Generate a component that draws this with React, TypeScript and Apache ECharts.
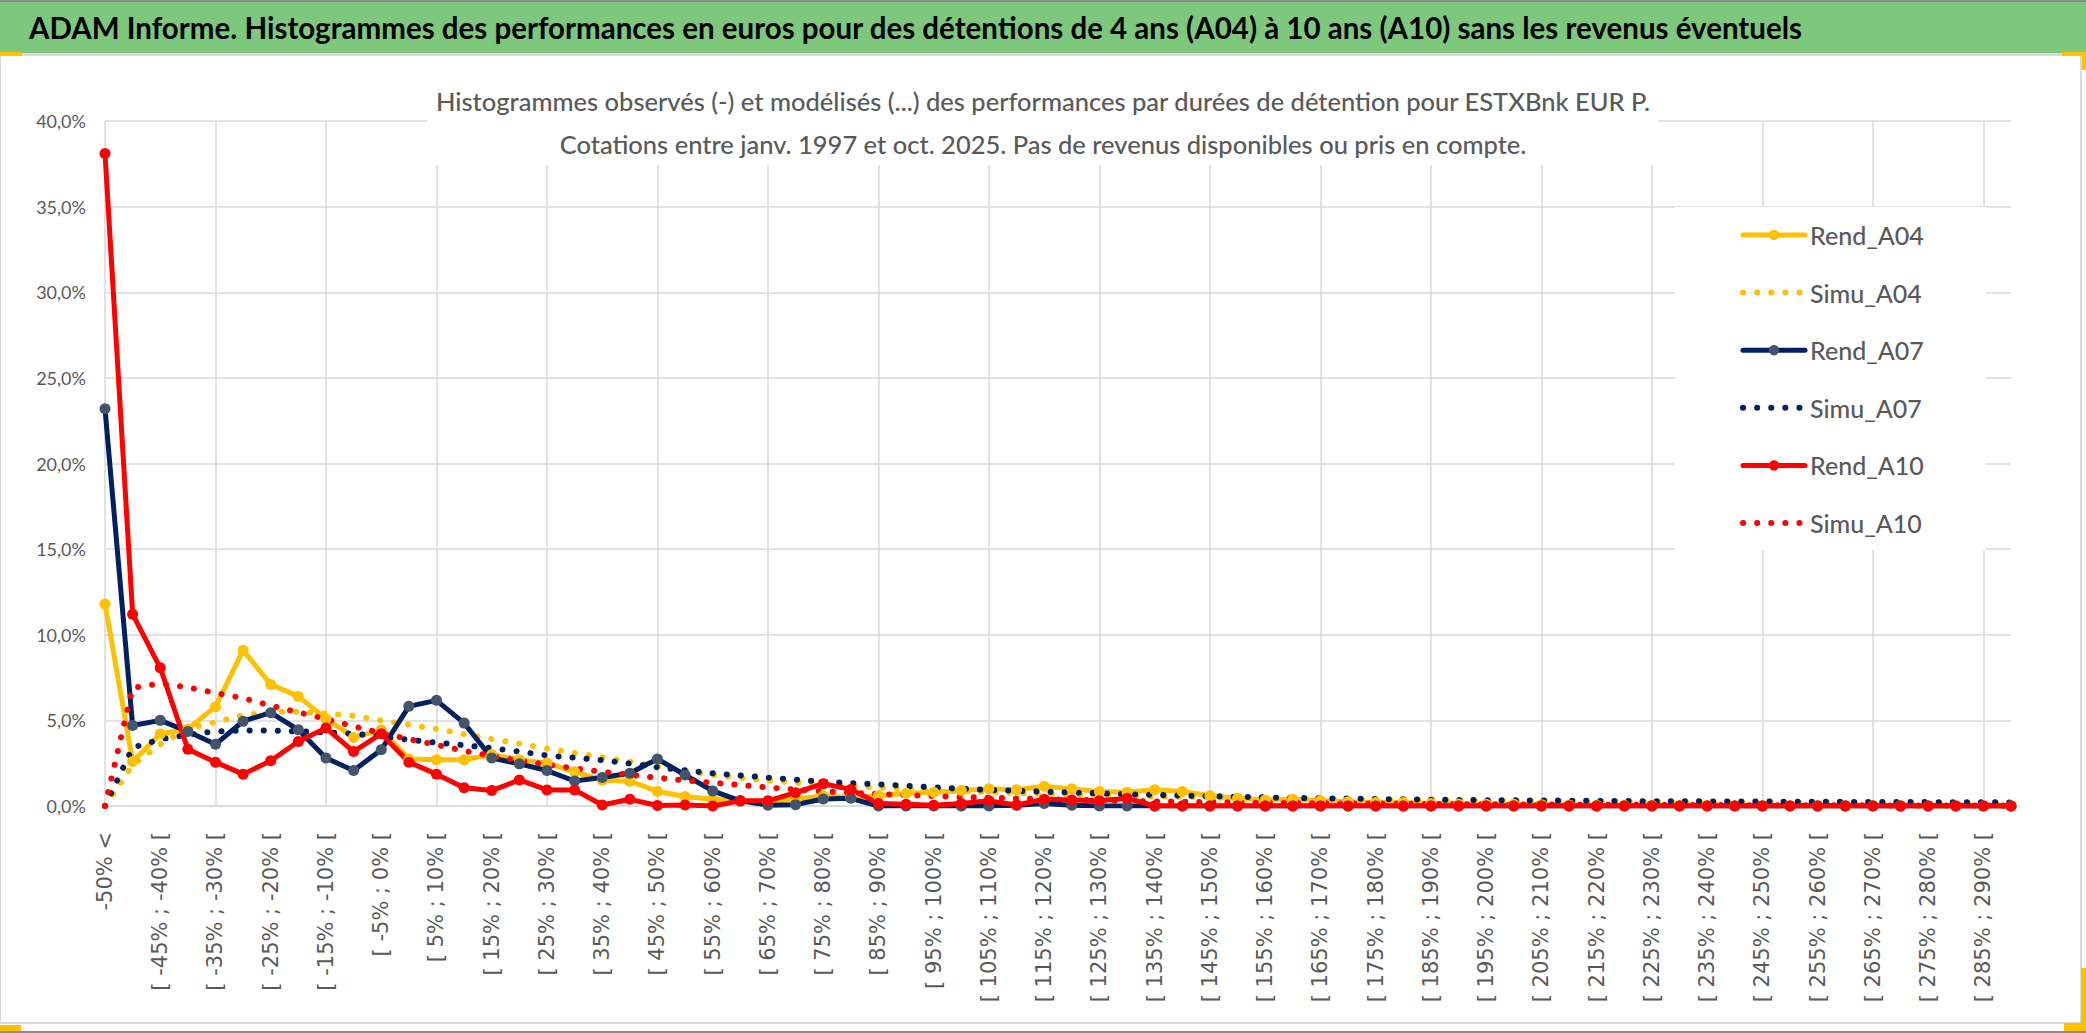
import React, { useEffect, useRef } from "react";
import * as echarts from "echarts";

const W = 2086;
const H = 1033;

const FN = "Lato, 'Liberation Sans', sans-serif";

const mainTitle =
  "ADAM Informe. Histogrammes des performances en euros pour des détentions de 4 ans (A04) à 10 ans (A10) sans les revenus éventuels";
const subTitle1 =
  "Histogrammes observés (-) et modélisés (...) des performances par durées de détention pour ESTXBnk EUR P.";
const subTitle2 =
  "Cotations entre janv. 1997 et oct. 2025. Pas de revenus disponibles ou pris en compte.";

const categories = [
  "-50% <",
  "[ -50% ; -45% [", "[ -45% ; -40% [", "[ -40% ; -35% [", "[ -35% ; -30% [", "[ -30% ; -25% [",
  "[ -25% ; -20% [", "[ -20% ; -15% [", "[ -15% ; -10% [", "[ -10% ; -5% [", "[ -5% ; 0% [",
  "[ 0% ; 5% [", "[ 5% ; 10% [", "[ 10% ; 15% [", "[ 15% ; 20% [", "[ 20% ; 25% [",
  "[ 25% ; 30% [", "[ 30% ; 35% [", "[ 35% ; 40% [", "[ 40% ; 45% [", "[ 45% ; 50% [",
  "[ 50% ; 55% [", "[ 55% ; 60% [", "[ 60% ; 65% [", "[ 65% ; 70% [", "[ 70% ; 75% [",
  "[ 75% ; 80% [", "[ 80% ; 85% [", "[ 85% ; 90% [", "[ 90% ; 95% [", "[ 95% ; 100% [",
  "[ 100% ; 105% [", "[ 105% ; 110% [", "[ 110% ; 115% [", "[ 115% ; 120% [", "[ 120% ; 125% [",
  "[ 125% ; 130% [", "[ 130% ; 135% [", "[ 135% ; 140% [", "[ 140% ; 145% [", "[ 145% ; 150% [",
  "[ 150% ; 155% [", "[ 155% ; 160% [", "[ 160% ; 165% [", "[ 165% ; 170% [", "[ 170% ; 175% [",
  "[ 175% ; 180% [", "[ 180% ; 185% [", "[ 185% ; 190% [", "[ 190% ; 195% [", "[ 195% ; 200% [",
  "[ 200% ; 205% [", "[ 205% ; 210% [", "[ 210% ; 215% [", "[ 215% ; 220% [", "[ 220% ; 225% [",
  "[ 225% ; 230% [", "[ 230% ; 235% [", "[ 235% ; 240% [", "[ 240% ; 245% [", "[ 245% ; 250% [",
  "[ 250% ; 255% [", "[ 255% ; 260% [", "[ 260% ; 265% [", "[ 265% ; 270% [", "[ 270% ; 275% [",
  "[ 275% ; 280% [", "[ 280% ; 285% [", "[ 285% ; 290% [", "[ 290% ; 295% [",
];

const rendA04 = [
  11.8, 2.6, 4.2, 4.5, 5.8, 9.1, 7.1, 6.4, 5.1, 4.0,
  4.45, 2.75, 2.7, 2.7, 3.0, 2.7, 2.5, 2.0, 1.5, 1.45,
  0.85, 0.55, 0.4, 0.3, 0.25, 0.4, 0.6, 0.5, 0.6, 0.75,
  0.8, 0.9, 1.0, 0.95, 1.15, 1.0, 0.85, 0.8, 0.95, 0.85,
  0.6, 0.45, 0.35, 0.4, 0.3, 0.25, 0.2, 0.2, 0.15, 0.12,
  0.1, 0.1, 0.08, 0.06, 0.05, 0.05, 0.04, 0.03, 0.03, 0.02,
  0.02, 0.02, 0.01, 0.01, 0.01, 0.01, 0, 0, 0, 0,
];
const simuA04 = [
  0, 2.4, 3.6, 4.5, 4.9, 5.3, 5.5, 5.5, 5.4, 5.27,
  5.0, 4.75, 4.5, 4.2, 3.9, 3.65, 3.36, 3.1, 2.85, 2.6,
  2.32, 2.05, 1.82, 1.65, 1.5, 1.38, 1.27, 1.17, 1.08, 1.0,
  0.93, 0.87, 0.81, 0.76, 0.71, 0.67, 0.63, 0.59, 0.56, 0.53,
  0.5, 0.47, 0.45, 0.42, 0.4, 0.38, 0.36, 0.34, 0.33, 0.31,
  0.3, 0.29, 0.27, 0.26, 0.25, 0.24, 0.23, 0.22, 0.21, 0.2,
  0.2, 0.19, 0.18, 0.18, 0.17, 0.16, 0.16, 0.15, 0.15, 0.14,
];
const rendA07 = [
  23.2, 4.7, 5.0, 4.35, 3.6, 4.95, 5.45, 4.45, 2.8, 2.07,
  3.28, 5.82, 6.17, 4.84, 2.8, 2.46, 2.07, 1.46, 1.66, 1.91,
  2.75, 1.81, 0.88, 0.3, 0.05, 0.08, 0.41, 0.45, 0, 0,
  0, 0, 0, 0.05, 0.15, 0.05, 0, 0, 0, 0,
  0, 0, 0, 0, 0, 0, 0, 0, 0, 0,
  0, 0, 0, 0, 0, 0, 0, 0, 0, 0,
  0, 0, 0, 0, 0, 0, 0, 0, 0, 0,
];
const simuA07 = [
  0, 3.4, 3.9, 4.16, 4.36, 4.41, 4.41, 4.36, 4.3, 4.22,
  4.06, 3.87, 3.7, 3.55, 3.38, 3.18, 2.95, 2.82, 2.68, 2.48,
  2.26, 2.08, 1.91, 1.78, 1.66, 1.54, 1.42, 1.34, 1.27, 1.18,
  1.09, 1.01, 0.94, 0.89, 0.84, 0.79, 0.74, 0.69, 0.65, 0.61,
  0.58, 0.54, 0.5, 0.47, 0.45, 0.43, 0.41, 0.39, 0.37, 0.35,
  0.34, 0.33, 0.32, 0.31, 0.3, 0.29, 0.28, 0.28, 0.27, 0.26,
  0.26, 0.25, 0.25, 0.24, 0.24, 0.23, 0.23, 0.22, 0.22, 0.21,
];
const rendA10 = [
  38.1, 11.2, 8.07, 3.32, 2.56, 1.86, 2.64, 3.77, 4.55, 3.18,
  4.22, 2.56, 1.86, 1.07, 0.9, 1.52, 0.94, 0.94, 0.06, 0.39,
  0.03, 0.06, 0, 0.3, 0.3, 0.78, 1.3, 0.97, 0.15, 0.1,
  0.05, 0.15, 0.3, 0.06, 0.4, 0.35, 0.3, 0.45, 0, 0,
  0, 0, 0, 0, 0, 0, 0, 0, 0, 0,
  0, 0, 0, 0, 0, 0, 0, 0, 0, 0,
  0, 0, 0, 0, 0, 0, 0, 0, 0, 0,
];
const simuA10 = [
  0, 6.9, 7.15, 6.93, 6.6, 6.3, 5.86, 5.47, 5.08, 4.65,
  4.26, 3.9, 3.57, 3.22, 2.92, 2.65, 2.42, 2.2, 2.0, 1.82,
  1.65, 1.5, 1.36, 1.22, 1.08, 0.96, 0.86, 0.78, 0.7, 0.64,
  0.58, 0.53, 0.48, 0.44, 0.4, 0.36, 0.33, 0.3, 0.27, 0.25,
  0.23, 0.21, 0.19, 0.17, 0.16, 0.15, 0.14, 0.13, 0.12, 0.11,
  0.1, 0.09, 0.09, 0.08, 0.08, 0.07, 0.07, 0.06, 0.06, 0.05,
  0.05, 0.05, 0.04, 0.04, 0.04, 0.03, 0.03, 0.03, 0.03, 0.02,
];

const YELLOW = "#FFC000";
const NAVY = "#002060";
const SLATE = "#44546A";
const RED = "#FF0000";
const GRID = "#d9d9d9";
const TXT = "#595959";

function fitSize(text: string, weight: string, target: number, fallback: number) {
  try {
    const ctx = document.createElement("canvas").getContext("2d");
    if (!ctx) return fallback;
    ctx.font = `${weight} 100px ${FN}`;
    const w = ctx.measureText(text).width;
    if (!w) return fallback;
    return Math.round((100 * target * 10) / w) / 10;
  } catch (e) {
    return fallback;
  }
}

function rend(name: string, data: number[], line: string, marker: string) {
  return {
    name,
    type: "line",
    data,
    symbol: "circle",
    symbolSize: 11,
    showAllSymbol: true,
    silent: true,
    lineStyle: { color: line, width: 5, cap: "round", join: "round" },
    itemStyle: { color: marker },
  };
}
function simu(name: string, data: number[], color: string) {
  return {
    name,
    type: "line",
    data,
    symbol: "none",
    silent: true,
    lineStyle: { color, width: 6, type: [0.1, 14], cap: "round", join: "round" },
    itemStyle: { color },
  };
}

function rect(x: number, y: number, w: number, h: number, fill: string) {
  return { type: "rect", shape: { x, y, width: w, height: h }, style: { fill }, silent: true, z: 0 };
}

export default function App() {
  const ref = useRef<HTMLDivElement>(null);
  useEffect(() => {
    const titleSize = fitSize(mainTitle, "bold", 1772, 33);
    const subSize = fitSize(subTitle1, "500", 1215, 25);
    const legSize = fitSize("Rend_A04", "500", 114, 25);
    const chart = echarts.init(ref.current!, null, { renderer: "svg", width: W, height: H });
    const option: any = {
      animation: false,
      backgroundColor: "#ffffff",
      graphic: [
        rect(0, 0, W, 2, "#8c8c8c"),
        rect(0, 2, W, 51, "#7DC87D"),
        rect(0, 53, W, 3, GRID),
        rect(0, 56, 1, 967, GRID),
        rect(2080, 56, 2, 967, GRID),
        rect(0, 1022, 2082, 2, GRID),
        rect(0, 1031, W, 2, "#8c8c8c"),
        rect(0, 52, 22, 4, YELLOW),
        rect(2062, 52, 24, 4, YELLOW),
        rect(2082, 52, 4, 18, YELLOW),
        rect(0, 1025, 21, 6, YELLOW),
        rect(2064, 1023, 22, 8, YELLOW),
        rect(2081, 968, 5, 62, YELLOW),
      ],
      title: [
        {
          text: mainTitle,
          left: 29,
          top: 5,
          padding: 0,
          textStyle: { fontFamily: FN, fontWeight: "bold", fontSize: titleSize, color: "#000000", lineHeight: 44 },
        },
        {
          text: subTitle1 + "\n" + subTitle2,
          left: "center",
          top: 79,
          padding: [0, 8, 0, 8],
          backgroundColor: "#ffffff",
          textStyle: { fontFamily: FN, fontWeight: 500, fontSize: subSize, color: TXT, lineHeight: 43 },
        },
      ],
      legend: {
        orient: "vertical",
        left: 1675,
        top: 207,
        padding: [13, 62, 12, 65],
        itemWidth: 62,
        itemHeight: 13,
        itemGap: 27.6,
        backgroundColor: "#ffffff",
        selectedMode: false,
        textStyle: { fontFamily: FN, fontWeight: 500, fontSize: legSize, color: TXT, lineHeight: 30 },
        lineStyle: { width: "inherit" },
        data: [
          { name: "Rend_A04" },
          { name: "Simu_A04", itemStyle: { opacity: 0 } },
          { name: "Rend_A07" },
          { name: "Simu_A07", itemStyle: { opacity: 0 } },
          { name: "Rend_A10" },
          { name: "Simu_A10", itemStyle: { opacity: 0 } },
        ],
      },
      grid: { left: 105, right: 75, top: 121, bottom: 227, containLabel: false, outerBoundsMode: "none" },
      xAxis: {
        type: "category",
        data: categories,
        boundaryGap: false,
        axisLine: { show: true, lineStyle: { color: GRID, width: 1.5 } },
        axisTick: { show: false },
        axisLabel: {
          interval: 1,
          rotate: 90,
          margin: 26,
          fontFamily: "'DejaVu Sans', sans-serif",
          fontSize: 21,
          color: TXT,
          hideOverlap: false,
        },
        splitLine: { show: true, interval: 3, lineStyle: { color: GRID, width: 1.5 } },
      },
      yAxis: {
        type: "value",
        min: 0,
        max: 40,
        interval: 5,
        axisLine: { show: false },
        axisTick: { show: false },
        axisLabel: {
          margin: 19,
          fontFamily: FN,
          fontSize: 18,
          color: TXT,
          formatter: (v: number) => v.toFixed(1).replace(".", ",") + "%",
        },
        splitLine: { show: true, lineStyle: { color: GRID, width: 1.5 } },
      },
      series: [
        rend("Rend_A04", rendA04, YELLOW, YELLOW),
        simu("Simu_A04", simuA04, YELLOW),
        rend("Rend_A07", rendA07, NAVY, SLATE),
        simu("Simu_A07", simuA07, NAVY),
        rend("Rend_A10", rendA10, RED, RED),
        simu("Simu_A10", simuA10, RED),
      ],
    };
    chart.setOption(option);
    return () => chart.dispose();
  }, []);
  return (
    <div
      ref={ref}
      style={{ position: "fixed", left: 0, top: 0, width: W, height: H, background: "#ffffff" }}
    />
  );
}
